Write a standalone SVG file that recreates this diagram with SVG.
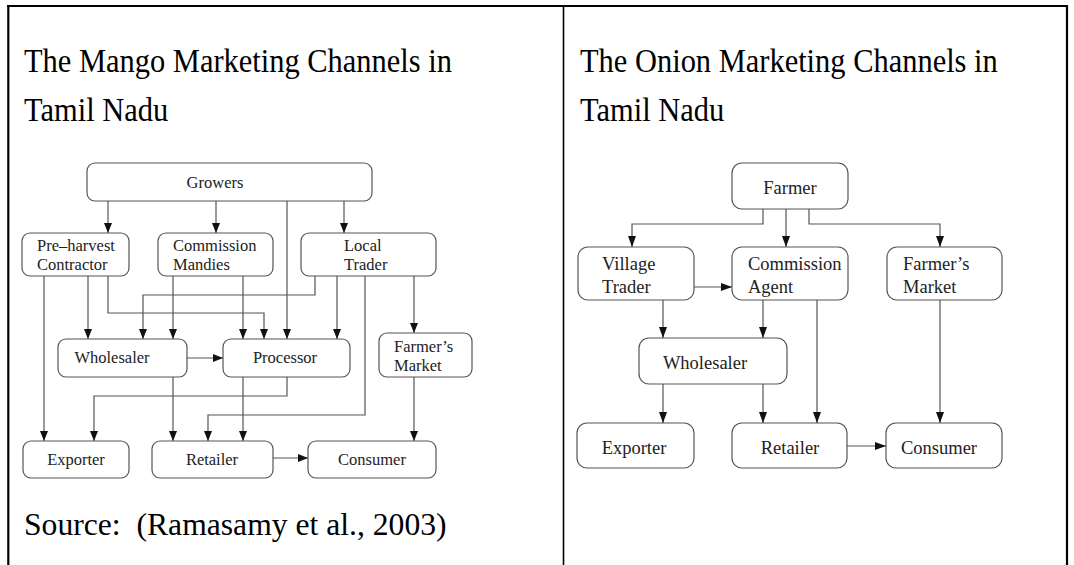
<svg xmlns="http://www.w3.org/2000/svg" width="1074" height="565" viewBox="0 0 1074 565">
<style>
.title{font-family:"Liberation Serif","Times New Roman",serif;font-size:30px;fill:#000}
.m{font-family:"Liberation Serif","Times New Roman",serif;font-size:16.5px;fill:#222}
.o{font-family:"Liberation Serif","Times New Roman",serif;font-size:18.5px;fill:#222}
.box{fill:#fff;stroke:#555;stroke-width:1.2}
.c{fill:none;stroke:#555;stroke-width:1.2}
.mc{marker-end:url(#am)}
.oc{marker-end:url(#ao)}
</style>
<defs>
<marker id="am" markerUnits="userSpaceOnUse" markerWidth="10" markerHeight="8" refX="10" refY="4" orient="auto"><path d="M0,0 L10,4 L0,8 Z" fill="#111"/></marker>
<marker id="ao" markerUnits="userSpaceOnUse" markerWidth="11" markerHeight="8" refX="11" refY="4" orient="auto"><path d="M0,0 L11,4 L0,8 Z" fill="#111"/></marker>
</defs>
<rect width="1074" height="565" fill="#fff"/>
<g id="frame" stroke="#000" fill="none">
<line x1="7" y1="6" x2="1068" y2="6" stroke-width="2.2"/>
<line x1="8.3" y1="5" x2="8.3" y2="565" stroke-width="2.2"/>
<line x1="563.5" y1="6" x2="563.5" y2="565" stroke-width="1.6"/>
<line x1="1067" y1="5" x2="1067" y2="565" stroke-width="2.2"/>
</g>
<g id="titles">
<text class="title" transform="translate(24,72) scale(1.015,1.1)">The Mango Marketing Channels in</text>
<text class="title" transform="translate(24,121) scale(1.015,1.1)">Tamil Nadu</text>
<text class="title" transform="translate(580,72) scale(1.015,1.1)">The Onion Marketing Channels in</text>
<text class="title" transform="translate(580,121) scale(1.015,1.1)">Tamil Nadu</text>
<text class="title" xml:space="preserve" transform="translate(24,535) scale(1.055,1.08)">Source:  (Ramasamy et al., 2003)</text>
</g>
<g id="mango-connectors">
<line class="c mc" x1="108" y1="201" x2="108" y2="233"/>
<line class="c mc" x1="216" y1="201" x2="216" y2="233"/>
<line class="c mc" x1="287" y1="201" x2="287" y2="339"/>
<line class="c mc" x1="344" y1="201" x2="344" y2="233"/>
<line class="c mc" x1="44" y1="276" x2="44" y2="441"/>
<line class="c mc" x1="88" y1="276" x2="88" y2="339"/>
<polyline class="c mc" points="108,276 108,313 264,313 264,339"/>
<line class="c mc" x1="173" y1="276" x2="173" y2="339"/>
<line class="c mc" x1="243" y1="276" x2="243" y2="339"/>
<polyline class="c mc" points="315,276 315,295 143,295 143,339"/>
<line class="c mc" x1="337" y1="276" x2="337" y2="339"/>
<polyline class="c mc" points="365,276 365,415 208,415 208,441"/>
<line class="c mc" x1="414" y1="276" x2="414" y2="333"/>
<line class="c mc" x1="187" y1="358" x2="223" y2="358"/>
<line class="c mc" x1="173" y1="377" x2="173" y2="441"/>
<polyline class="c mc" points="287,377 287,396 94,396 94,441"/>
<line class="c mc" x1="243" y1="377" x2="243" y2="441"/>
<line class="c mc" x1="414" y1="377" x2="414" y2="441"/>
<line class="c mc" x1="273" y1="458" x2="308" y2="458"/>
</g>
<g id="m-growers"><rect class="box" x="87" y="163" width="285" height="38" rx="8"/><text class="m" x="215" y="188" text-anchor="middle">Growers</text></g>
<g id="m-preharvest"><rect class="box" x="22" y="233" width="107" height="43" rx="8"/><text class="m" x="37" y="251">Pre–harvest</text><text class="m" x="37" y="270">Contractor</text></g>
<g id="m-commission"><rect class="box" x="158" y="233" width="115" height="43" rx="8"/><text class="m" x="173" y="251">Commission</text><text class="m" x="173" y="270">Mandies</text></g>
<g id="m-localtrader"><rect class="box" x="301" y="233" width="135" height="43" rx="8"/><text class="m" x="344" y="251">Local</text><text class="m" x="344" y="270">Trader</text></g>
<g id="m-wholesaler"><rect class="box" x="58" y="339" width="129" height="38" rx="8"/><text class="m" x="112" y="363" text-anchor="middle">Wholesaler</text></g>
<g id="m-processor"><rect class="box" x="223" y="339" width="127" height="38" rx="8"/><text class="m" x="285" y="363" text-anchor="middle">Processor</text></g>
<g id="m-farmersmarket"><rect class="box" x="379" y="333" width="93" height="44" rx="8"/><text class="m" x="394" y="352">Farmer’s</text><text class="m" x="394" y="371">Market</text></g>
<g id="m-exporter"><rect class="box" x="23" y="441" width="106" height="37" rx="8"/><text class="m" x="76" y="465" text-anchor="middle">Exporter</text></g>
<g id="m-retailer"><rect class="box" x="152" y="441" width="121" height="37" rx="8"/><text class="m" x="212" y="465" text-anchor="middle">Retailer</text></g>
<g id="m-consumer"><rect class="box" x="308" y="441" width="128" height="37" rx="8"/><text class="m" x="372" y="465" text-anchor="middle">Consumer</text></g>
<g id="onion-connectors">
<polyline class="c oc" points="763,209 763,224 632,224 632,247"/>
<line class="c oc" x1="786" y1="209" x2="786" y2="247"/>
<polyline class="c oc" points="809,209 809,224 940,224 940,247"/>
<line class="c oc" x1="694" y1="287" x2="732" y2="287"/>
<line class="c oc" x1="663" y1="300" x2="663" y2="338"/>
<line class="c oc" x1="763" y1="300" x2="763" y2="338"/>
<line class="c oc" x1="817" y1="300" x2="817" y2="423"/>
<line class="c oc" x1="940" y1="300" x2="940" y2="423"/>
<line class="c oc" x1="663" y1="384" x2="663" y2="423"/>
<line class="c oc" x1="763" y1="384" x2="763" y2="423"/>
<line class="c oc" x1="847" y1="446" x2="886" y2="446"/>
</g>
<g id="o-farmer"><rect class="box" x="732" y="163" width="116" height="46" rx="10"/><text class="o" x="790" y="194" text-anchor="middle">Farmer</text></g>
<g id="o-villagetrader"><rect class="box" x="578" y="247" width="116" height="53" rx="10"/><text class="o" x="602" y="270">Village</text><text class="o" x="602" y="293">Trader</text></g>
<g id="o-commissionagent"><rect class="box" x="732" y="247" width="116" height="53" rx="10"/><text class="o" x="748" y="270">Commission</text><text class="o" x="748" y="293">Agent</text></g>
<g id="o-farmersmarket"><rect class="box" x="887" y="247" width="115" height="53" rx="10"/><text class="o" x="903" y="270">Farmer’s</text><text class="o" x="903" y="293">Market</text></g>
<g id="o-wholesaler"><rect class="box" x="639" y="338" width="148" height="46" rx="10"/><text class="o" x="705" y="369" text-anchor="middle">Wholesaler</text></g>
<g id="o-exporter"><rect class="box" x="577" y="423" width="117" height="45" rx="10"/><text class="o" x="634" y="454" text-anchor="middle">Exporter</text></g>
<g id="o-retailer"><rect class="box" x="732" y="423" width="115" height="45" rx="10"/><text class="o" x="790" y="454" text-anchor="middle">Retailer</text></g>
<g id="o-consumer"><rect class="box" x="886" y="423" width="116" height="45" rx="10"/><text class="o" x="939" y="454" text-anchor="middle">Consumer</text></g>
</svg>
